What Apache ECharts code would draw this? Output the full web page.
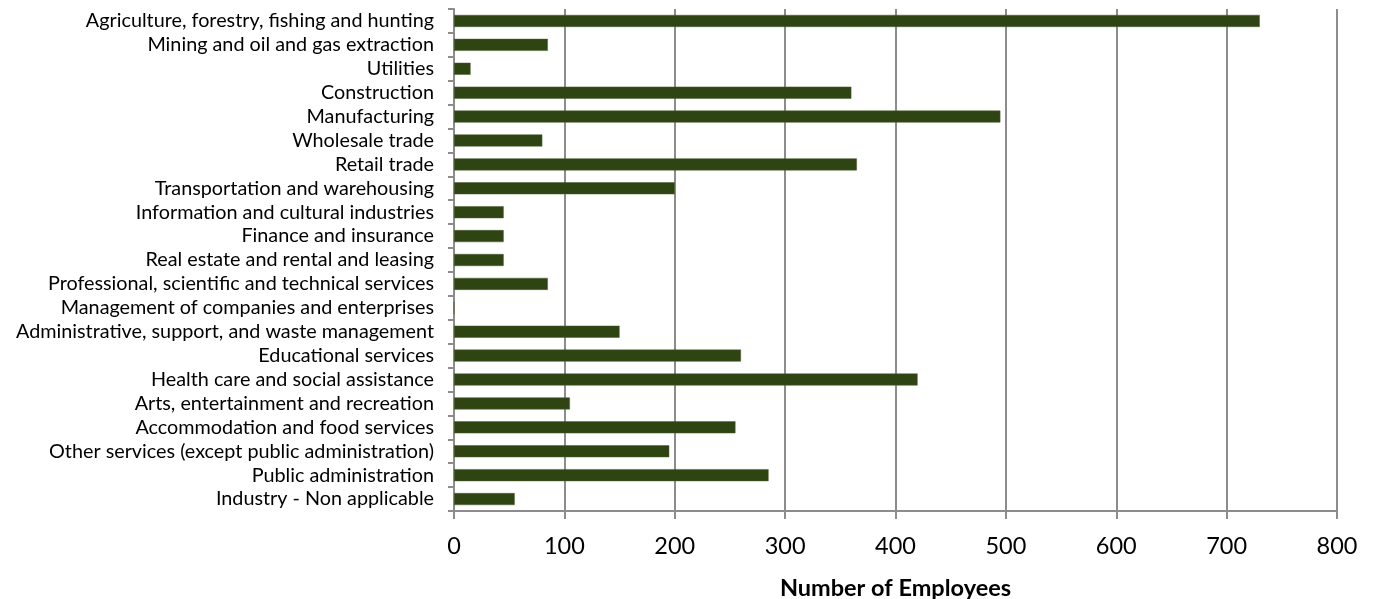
<!DOCTYPE html>
<html><head><meta charset="utf-8">
<script src="https://cdn.jsdelivr.net/npm/echarts@6/dist/echarts.min.js"></script>
<style>html,body{margin:0;padding:0;background:#fff}#c{width:1374px;height:599px}</style>
</head><body><div id="c"></div>
<script>
const categories = [
  "Agriculture, forestry, fishing and hunting",
  "Mining and oil and gas extraction",
  "Utilities",
  "Construction",
  "Manufacturing",
  "Wholesale trade",
  "Retail trade",
  "Transportation and warehousing",
  "Information and cultural industries",
  "Finance and insurance",
  "Real estate and rental and leasing",
  "Professional, scientific and technical services",
  "Management of companies and enterprises",
  "Administrative, support, and waste management",
  "Educational services",
  "Health care and social assistance",
  "Arts, entertainment and recreation",
  "Accommodation and food services",
  "Other services (except public administration)",
  "Public administration",
  "Industry - Non applicable"
];
const employees = [730, 85, 15, 360, 495, 80, 365, 200, 45, 45, 45, 85, 0, 150, 260, 420, 105, 255, 195, 285, 55];
const xTitle = "Number of Employees";
const FONT = "Lato";

const chart = echarts.init(document.getElementById('c'));
chart.setOption({
  animation: false,
  grid: {left: 454, right: 37, top: 9, bottom: 88, containLabel: false, outerBoundsMode: 'none'},
  xAxis: {
    type: 'value', min: 0, max: 800, interval: 100,
    name: xTitle, nameLocation: 'middle', nameGap: 65,
    nameTextStyle: {fontFamily: FONT, fontSize: 23.5, fontWeight: 'bold', color: '#000'},
    axisLine: {show: true, lineStyle: {color: '#8c8c8c', width: 2}},
    axisTick: {show: true, length: 8, lineStyle: {color: '#8c8c8c', width: 2}},
    axisLabel: {fontFamily: FONT, fontSize: 23.5, color: '#000', margin: 23},
    splitLine: {show: true, lineStyle: {color: '#8c8c8c', width: 2}}
  },
  yAxis: {
    type: 'category', data: categories, inverse: true,
    axisLine: {show: true, lineStyle: {color: '#8c8c8c', width: 2}},
    axisTick: {show: true, length: 6, inside: false, lineStyle: {color: '#8c8c8c', width: 2}},
    axisLabel: {fontFamily: FONT, fontSize: 19.8, lineHeight: 22, color: '#000', margin: 20, interval: 0, hideOverlap: false}
  },
  series: [{
    type: 'bar', data: employees, barWidth: 12,
    itemStyle: {color: '#2f4413', borderColor: '#4a5e30', borderWidth: 0.5}
  }]
});
</script></body></html>
